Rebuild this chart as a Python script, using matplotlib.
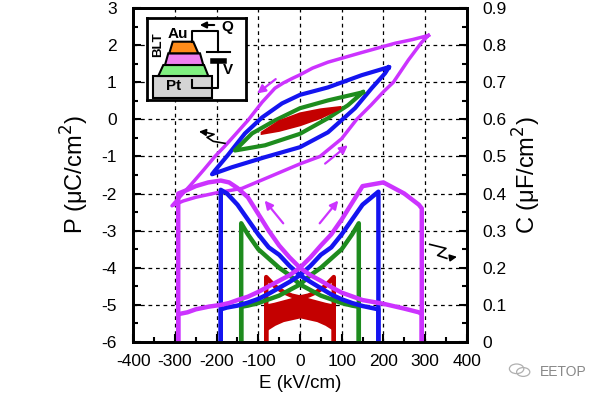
import matplotlib.pyplot as plt
import numpy as np
from matplotlib.patches import Rectangle, Polygon, Circle
from matplotlib.ticker import MultipleLocator

plt.rcParams['font.family'] = ['Liberation Sans', 'DejaVu Sans']
plt.rcParams['axes.unicode_minus'] = False

magenta = '#cc33ff'
blue = '#1414f0'
green = '#1e8c1e'
red = '#c40000'

# ---- P-E loops (left axis); upper branch = sweep down, lower branch = sweep up
mag_up_E = [308, 270, 228, 148, 67, 30, 0, -19, -40, -60, -91, -125, -156, -180, -204, -230, -263, -285, -307]
mag_up_P = [2.26, 2.15, 2.05, 1.8, 1.54, 1.38, 1.2, 1.1, 0.98, 0.84, 0.46, -0.03, -0.42, -0.72, -1.0, -1.35, -1.78, -2.05, -2.33]
mag_lo_E = [-307, -280, -250, -200, -139, -84, 0, 48, 100, 136, 170, 200, 224, 260, 292, 308]
mag_lo_P = [-2.33, -2.2, -2.1, -1.98, -1.86, -1.6, -1.2, -1.0, -0.52, 0.0, 0.38, 0.74, 1.0, 1.6, 2.08, 2.26]

blu_up_E = [213, 211, 148, 67, 0, -43, -91, -132, -172, -204, -211]
blu_up_P = [1.40, 1.40, 1.19, 0.86, 0.66, 0.43, 0.05, -0.38, -0.95, -1.38, -1.48]
blu_lo_E = [-211, -163, -84, 0, 67, 132, 172, 204, 213]
blu_lo_P = [-1.48, -1.29, -1.02, -0.75, -0.35, 0.3, 0.84, 1.24, 1.40]

grn_up_E = [151, 67, 0, -60, -115, -156]
grn_up_P = [0.73, 0.51, 0.3, -0.03, -0.38, -0.84]
grn_lo_E = [-156, -84, 0, 67, 115, 151]
grn_lo_P = [-0.84, -0.70, -0.39, 0.03, 0.38, 0.73]

red_up_E = [96, 50, 0, -50, -91]
red_up_P = [0.32, 0.26, 0.15, -0.06, -0.36]
red_lo_E = [-91, -50, 0, 50, 96]
red_lo_P = [-0.38, -0.30, -0.15, 0.05, 0.30]

# ---- C-E butterflies (right axis); branch A peaks at negative E, B at positive E
mag_C_E = [-292, -292, -270, -250, -220, -190, -170, -150, -125, -100, -75, -50, -25, 0,
           25, 50, 75, 100, 150, 200, 250, 285, 292, 292]
mag_CA = [0.0, 0.40, 0.41, 0.42, 0.43, 0.435, 0.43, 0.415, 0.39, 0.345, 0.30, 0.26, 0.228, 0.20,
          0.18, 0.165, 0.148, 0.133, 0.113, 0.103, 0.09, 0.08, 0.075, 0.0]
mag_CB = [0.0, 0.075, 0.08, 0.088, 0.095, 0.10, 0.105, 0.113, 0.122, 0.135, 0.15, 0.165, 0.18, 0.20,
          0.228, 0.26, 0.29, 0.33, 0.42, 0.43, 0.40, 0.37, 0.36, 0.0]

blu_C_E = [-190, -190, -175, -150, -125, -100, -75, -50, -25, 0, 25, 50, 75, 100, 125, 150, 188, 188]
blu_CA = [0.0, 0.41, 0.40, 0.37, 0.33, 0.29, 0.255, 0.235, 0.205, 0.18,
          0.162, 0.145, 0.128, 0.115, 0.105, 0.097, 0.088, 0.0]
blu_CB = [0.0, 0.088, 0.093, 0.098, 0.106, 0.116, 0.13, 0.146, 0.162, 0.18,
          0.205, 0.235, 0.255, 0.29, 0.33, 0.37, 0.405, 0.0]

grn_C_E = [-141, -141, -125, -100, -75, -50, -25, 0, 25, 50, 75, 100, 125, 141, 141]
grn_CA = [0.0, 0.32, 0.29, 0.25, 0.225, 0.20, 0.18, 0.155, 0.14, 0.125, 0.115, 0.105, 0.098, 0.095, 0.0]
grn_CB = [0.0, 0.095, 0.098, 0.105, 0.115, 0.125, 0.14, 0.155, 0.18, 0.20, 0.225, 0.25, 0.29, 0.32, 0.0]

red_C_E = [-81, -81, -60, -40, -20, 0, 20, 40, 60, 81, 81]
red_CA = [0.0, 0.175, 0.15, 0.135, 0.125, 0.12, 0.112, 0.106, 0.10, 0.095, 0.0]
red_CB = [0.0, 0.095, 0.10, 0.106, 0.112, 0.12, 0.125, 0.135, 0.15, 0.175, 0.0]
red_C_floor = [0.0, 0.03, 0.045, 0.055, 0.06, 0.065, 0.06, 0.055, 0.045, 0.03, 0.0]

fig = plt.figure(figsize=(6, 4), dpi=100)
ax = fig.add_axes([0.222, 0.145, 0.556, 0.835])
ax2 = ax.twinx()

# P-E
for eu, pu, el, pl, c, lw in [(mag_up_E, mag_up_P, mag_lo_E, mag_lo_P, magenta, 2.5),
                              (blu_up_E, blu_up_P, blu_lo_E, blu_lo_P, blue, 3.0),
                              (grn_up_E, grn_up_P, grn_lo_E, grn_lo_P, green, 3.0)]:
    ax.plot(eu + el, pu + pl, color=c, lw=lw, solid_joinstyle='round', zorder=3)
ax.fill(red_up_E + red_lo_E, red_up_P + red_lo_P, color=red, lw=2, zorder=3)

# C-E
ax2.fill_between(red_C_E, red_C_floor, np.minimum(red_CA, red_CB), color=red, lw=0)
for e, ca, cb, c in [(red_C_E, red_CA, red_CB, red),
                     (grn_C_E, grn_CA, grn_CB, green),
                     (blu_C_E, blu_CA, blu_CB, blue),
                     (mag_C_E, mag_CA, mag_CB, magenta)]:
    ax2.plot(e, ca, color=c, lw=3.2, solid_joinstyle='round')
    ax2.plot(e, cb, color=c, lw=3.2, solid_joinstyle='round')

# axes
ax.set_xlim(-400, 400)
ax.set_ylim(-6, 3)
ax2.set_ylim(0, 0.9)
ax.xaxis.set_major_locator(MultipleLocator(100))
ax.xaxis.set_minor_locator(MultipleLocator(50))
ax.yaxis.set_major_locator(MultipleLocator(1))
ax.yaxis.set_minor_locator(MultipleLocator(0.5))
ax2.yaxis.set_minor_locator(MultipleLocator(0.05))
ax2.set_yticks(np.arange(0, 0.91, 0.1))
ax2.set_yticklabels(['0'] + ['%.1f' % v for v in np.arange(0.1, 0.91, 0.1)])

ax.grid(True, which='major', color='black', ls=(0, (3, 3)), lw=0.9)
for a in (ax, ax2):
    a.tick_params(which='both', direction='in', labelsize=12.5, width=1.5)
    a.tick_params(which='major', length=6)
    a.tick_params(which='minor', length=3.5)
    for s in a.spines.values():
        s.set_linewidth(2)
ax.tick_params(axis='y', pad=12)
ax.tick_params(axis='x', pad=9)
ax2.tick_params(axis='y', pad=11)

ax.set_xlabel('E (kV/cm)', fontsize=13.5, labelpad=4)
ax.set_ylabel('P (\u03bcC/cm$^2$)', fontsize=17, labelpad=7)
ax2.set_ylabel('C (\u03bcF/cm$^2$)', fontsize=17, rotation=90, labelpad=3)

# direction arrows
arrow = dict(arrowstyle='-|>', color=magenta, lw=1.6, mutation_scale=12)
for (x0, y0), (x1, y1) in [((-53, 1.13), (-108, 0.65)), ((55, -1.24), (120, -0.65)),
                           ((-36, -2.86), (-89, -2.13)), ((43, -2.86), (96, -2.13))]:
    ax.annotate('', xy=(x1, y1), xytext=(x0, y0), arrowprops=arrow, zorder=5)

# axis-pointer squiggles
sq_left = [(-180, -0.647), (-208, -0.593), (-223, -0.485), (-206, -0.404), (-227, -0.35), (-249, -0.323)]
sq_right = [(311, -3.369), (350, -3.477), (330, -3.666), (352, -3.747), (383, -3.693)]
black_arrow = dict(arrowstyle='-|>', color='black', lw=1.2, mutation_scale=10)
for sq in (sq_left, sq_right):
    xs, ys = zip(*sq)
    ax.plot(xs[:-1], ys[:-1], color='black', lw=1.2, zorder=6)
    ax.annotate('', xy=sq[-1], xytext=sq[-2], arrowprops=black_arrow, zorder=6)

# inset schematic
ins = fig.add_axes([147 / 600, 1 - 100 / 400, 99 / 600, 82 / 400])
ins.set_xlim(0, 99)
ins.set_ylim(82, 0)
ins.set_xticks([])
ins.set_yticks([])
for s in ins.spines.values():
    s.set_linewidth(2)
ins.add_patch(Rectangle((6, 58), 59, 22, facecolor='#d4d4d4', edgecolor='black', lw=1.5))
ins.add_patch(Polygon([(11.3, 58), (61.3, 58), (57, 47), (16.3, 47)], facecolor='#80f080', edgecolor='black', lw=1.5))
ins.add_patch(Polygon([(18, 47), (56.3, 47), (53, 35.3), (21.3, 35.3)], facecolor='#f080f0', edgecolor='black', lw=1.5))
ins.add_patch(Polygon([(22.3, 35.3), (51.3, 35.3), (46.3, 23.7), (25.7, 23.7)], facecolor='#ff8c1a', edgecolor='black', lw=1.5))
ins.plot([44.7, 44.7, 71.3, 71.3], [23.7, 12.7, 12.7, 33.7], color='black', lw=1.5)
ins.plot([60.3, 83], [33.7, 33.7], color='black', lw=1.5)
ins.plot([66, 77], [42.7, 42.7], color='black', lw=4)
ins.plot([71.3, 71.3, 44.7, 44.7], [42.7, 70.3, 70.3, 62], color='black', lw=1.5)
ins.annotate('', xy=(50, 7), xytext=(70, 7),
             arrowprops=dict(arrowstyle='-|>', color='black', lw=1.5, mutation_scale=9))
ins.text(31, 15.5, 'Au', fontsize=11, fontweight='bold', ha='center', va='center')
ins.text(11, 27, 'BLT', fontsize=9.5, fontweight='bold', rotation=90, ha='center', va='center')
ins.text(27, 68, 'Pt', fontsize=11, fontweight='bold', ha='center', va='center')
ins.text(80, 8.5, 'Q', fontsize=11, fontweight='bold', ha='center', va='center')
ins.text(81, 52, 'V', fontsize=11, fontweight='bold', ha='center', va='center')

# watermark
for cx, cy, r in [(0.861, 0.078, 0.012), (0.872, 0.070, 0.011)]:
    fig.add_artist(Circle((cx, cy), r, transform=fig.transFigure, fill=False,
                          edgecolor='#b0b0b0', lw=0.9))
fig.text(540 / 600, 1 - 372 / 400, 'EETOP', fontsize=10, color='#888888', ha='left', va='center')

fig.savefig('out.png', dpi=100)
